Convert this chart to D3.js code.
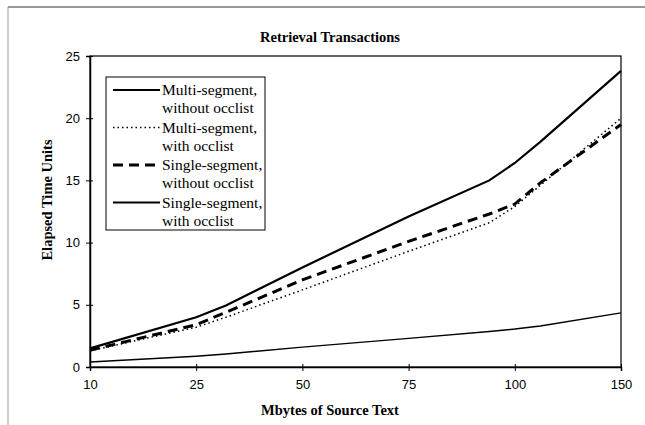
<!DOCTYPE html>
<html>
<head>
<meta charset="utf-8">
<script src="https://cdn.jsdelivr.net/npm/d3@7"></script>
<style>
  body { margin: 0; background: #fff; }
</style>
</head>
<body>
<div id="chart"></div>
<script>
// category labels on the x axis (Mbytes), evenly spaced in the original
const xTicks = [10, 25, 50, 75, 100, 150];
const yTicks = [0, 5, 10, 15, 20, 25];

// sample points
const mbytes = [10, 25, 32, 50, 75, 94, 100, 112, 150];
const multiNoOcc = [0.4, 0.87, 1.05, 1.6, 2.3, 2.85, 3.05, 3.3, 4.35];
const multiOcc = [1.3, 3.2, 4.0, 6.2, 9.3, 11.6, 12.9, 14.6, 20.0];
const singleNoOcc = [1.35, 3.4, 4.4, 7.0, 10.1, 12.3, 13.1, 14.8, 19.5];
const singleOcc = [1.5, 4.0, 4.95, 8.0, 12.1, 15.0, 16.4, 18.1, 23.8];

const seriesNames = [
  ["Multi-segment,", "without occlist"],
  ["Multi-segment,", "with occlist"],
  ["Single-segment,", "without occlist"],
  ["Single-segment,", "with occlist"]
];

const width = 645, height = 425;
const plotLeft = 90, plotRight = 621, plotTop = 56, plotBottom = 367;

const svg = d3.select("#chart").append("svg")
  .attr("width", width)
  .attr("height", height);

// scanned page frame
svg.append("line")
  .attr("x1", 8).attr("x2", width).attr("y1", 7).attr("y2", 7)
  .attr("stroke", "#777").attr("stroke-width", 1.5);
svg.append("line")
  .attr("x1", 8).attr("x2", 8).attr("y1", 7).attr("y2", height)
  .attr("stroke", "#999").attr("stroke-width", 1);

// piecewise scale: labelled categories sit at equal steps
const step = (plotRight - plotLeft) / (xTicks.length - 1);
const x = d3.scaleLinear()
  .domain(xTicks)
  .range(xTicks.map((d, i) => plotLeft + i * step));
const y = d3.scaleLinear().domain([0, 25]).range([plotBottom, plotTop]);

// plot border
svg.append("rect")
  .attr("x", plotLeft).attr("y", plotTop)
  .attr("width", plotRight - plotLeft).attr("height", plotBottom - plotTop)
  .attr("fill", "none").attr("stroke", "#000").attr("stroke-width", 1.2);

const xAxis = svg.append("g")
  .attr("transform", `translate(0,${plotBottom})`)
  .call(d3.axisBottom(x).tickValues(xTicks).tickSize(4).tickPadding(9).tickFormat(d3.format("d")));
xAxis.selectAll(".tick line").attr("y1", -3).attr("y2", 4);
xAxis.select(".domain").attr("stroke-width", 1.5);
xAxis.selectAll("text")
  .attr("font-family", "Liberation Sans, Arial, sans-serif")
  .attr("font-size", 13).attr("fill", "#000");

const yAxis = svg.append("g")
  .attr("transform", `translate(${plotLeft},0)`)
  .call(d3.axisLeft(y).tickValues(yTicks).tickSize(4).tickPadding(6));
yAxis.selectAll(".tick line").attr("x1", -4).attr("x2", 3);
yAxis.select(".domain").attr("stroke-width", 1.5);
yAxis.selectAll("text")
  .attr("font-family", "Liberation Sans, Arial, sans-serif")
  .attr("font-size", 13).attr("fill", "#000");

// lines
const styles = [
  { width: 1.4, dash: null },
  { width: 1.5, dash: "1.5,3" },
  { width: 3, dash: "10,6" },
  { width: 2.2, dash: null }
];
const allSeries = [multiNoOcc, multiOcc, singleNoOcc, singleOcc];

const line = d3.line()
  .x(d => x(d[0]))
  .y(d => y(d[1]));

allSeries.forEach((vals, i) => {
  svg.append("path")
    .datum(mbytes.map((m, j) => [m, vals[j]]))
    .attr("d", line)
    .attr("fill", "none")
    .attr("stroke", "#000")
    .attr("stroke-width", styles[i].width)
    .attr("stroke-dasharray", styles[i].dash);
});

// legend
svg.append("rect")
  .attr("x", 106).attr("y", 77)
  .attr("width", 159).attr("height", 153)
  .attr("fill", "#fff").attr("stroke", "#000").attr("stroke-width", 1);

seriesNames.forEach((names, i) => {
  const ly = 90 + i * 37.5;
  svg.append("line")
    .attr("x1", 113).attr("x2", 160)
    .attr("y1", ly).attr("y2", ly)
    .attr("stroke", "#000")
    .attr("stroke-width", i === 0 ? 2 : styles[i].width)
    .attr("stroke-dasharray", styles[i].dash);
  names.forEach((t, k) => {
    svg.append("text")
      .attr("x", 162)
      .attr("y", ly + 5 + k * 18)
      .attr("font-family", "Liberation Serif, Times New Roman, serif")
      .attr("font-size", 15.5)
      .text(t);
  });
});

// titles
svg.append("text")
  .attr("x", 330).attr("y", 42)
  .attr("text-anchor", "middle")
  .attr("font-family", "Liberation Serif, Times New Roman, serif")
  .attr("font-weight", "bold").attr("font-size", 14.5)
  .text("Retrieval Transactions");

svg.append("text")
  .attr("x", 330).attr("y", 415)
  .attr("text-anchor", "middle")
  .attr("font-family", "Liberation Serif, Times New Roman, serif")
  .attr("font-weight", "bold").attr("font-size", 14.5)
  .text("Mbytes of Source Text");

svg.append("text")
  .attr("transform", "translate(52,200) rotate(-90)")
  .attr("text-anchor", "middle")
  .attr("font-family", "Liberation Serif, Times New Roman, serif")
  .attr("font-weight", "bold").attr("font-size", 14.5)
  .text("Elapsed Time Units");
</script>
</body>
</html>
